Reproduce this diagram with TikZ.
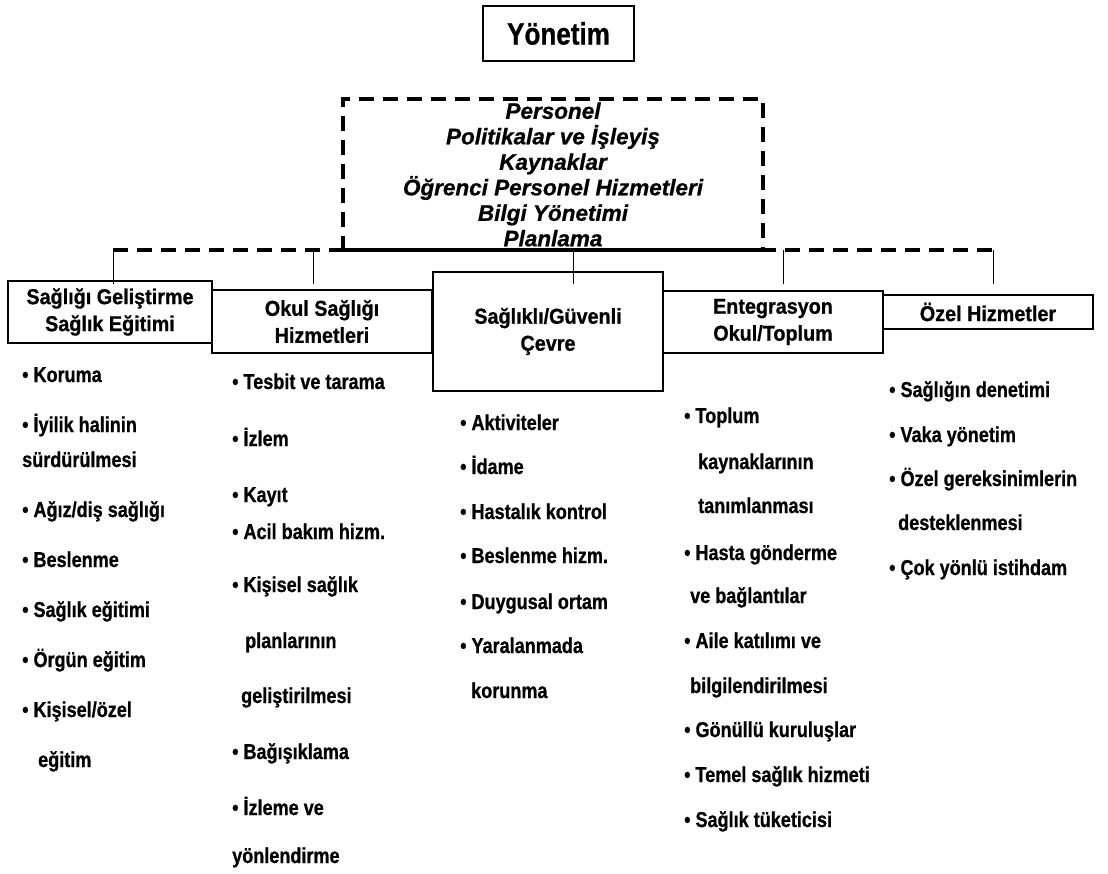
\documentclass[tikz,border=0pt]{standalone}
\usepackage{fontspec}
\setmainfont{Liberation Sans}[FakeBold=0.8]
\newfontfamily\condensed{Liberation Sans}[FakeStretch=0.84, FakeBold=0.8]
\newfontfamily\boxfont{Liberation Sans}[FakeStretch=0.92, FakeBold=0.8]
\usetikzlibrary{positioning}
\tikzset{
  every picture/.style = {
    x = 1pt,
    y = -1pt,
    font = \bfseries
  }
  ,
  head-box/.style = {
    rectangle,
    draw,
    line width = 1.8pt,
    inner sep = 0pt,
    minimum width = 151pt,
    minimum height = 55pt,
    font = \condensed\bfseries\fontsize{31}{34}\selectfont
  }
  , % dashed frame with the admin topics
  admin-box/.style = {
    rectangle,
    draw,
    dash pattern = on 15pt off 9pt,
    line width = 3.6pt,
    inner sep = 0pt,
    align = center,
    minimum width = 420pt,
    minimum height = 151pt,
    font = \bfseries\itshape\fontsize{22.5}{25.5}\selectfont
  }
  ,
  bus-line/.style = {
    dash pattern = on 15pt off 9pt,
    line width = 3.6pt
  }
  ,
  drop/.style = {
    line width = 1pt
  }
  , % the five components
  unit/.style = {
    rectangle,
    draw,
    line width = 1.3pt,
    inner sep = 0pt,
    align = center,
    font = \boxfont\bfseries\fontsize{21.5}{27}\selectfont
  }
  , % list lines under the components
  entry/.style = {
    anchor = base west,
    inner sep = 0pt,
    font = \condensed\bfseries\fontsize{21.5}{24}\selectfont
  }
}
\begin{document}
\begin{tikzpicture}
  \useasboundingbox (0,0) rectangle (1108,873);
  \node[head-box] at (558.5,33.5) (yonetim) {Yönetim};
  \node[admin-box] at (553,174.5) (admin) {Personel\\Politikalar ve İşleyiş\\Kaynaklar\\Öğrenci Personel Hizmetleri\\Bilgi Yönetimi\\Planlama};

  \node[unit, minimum width = 204pt, minimum height = 62pt] at (110,312) (sg) {Sağlığı Geliştirme\\Sağlık Eğitimi};
  \node[unit, minimum width = 220pt, minimum height = 63pt] at (322,321.5) (os) {Okul Sağlığı\\Hizmetleri};
  \node[unit, minimum width = 230pt, minimum height = 119pt] at (548,331.5) (gc) {Sağlıklı/Güvenli\\Çevre};
  \node[unit, minimum width = 220pt, minimum height = 62pt] at (773,322) (ent) {Entegrasyon\\Okul/Toplum};
  \node[unit, minimum width = 210pt, minimum height = 34pt] at (988,312) (oh) {Özel Hizmetler};

  \coordinate (bl) at (113,250);
  \coordinate (br) at (993,250);
  \draw[bus-line] (bl) -- (br);
  \foreach \x [count=\i] in {113,313,573,783,993} {
    \coordinate (j\i) at (\x,250);
    \coordinate (e\i) at (\x,284);
    \draw[drop] (j\i) -- (e\i);
  }

  \foreach \x/\y/\t [count=\i] in {22/382/{• Koruma}, 22/432/{• İyilik halinin}, 22/467/{sürdürülmesi}, 22/517/{• Ağız/diş sağlığı}, 22/567/{• Beslenme}, 22/617/{• Sağlık eğitimi}, 22/667/{• Örgün eğitim}, 22/717/{• Kişisel/özel}, 38/767/{eğitim}}
    \node[entry] at (\x,\y) (sg-\i) {\t};
  \foreach \x/\y/\t [count=\i] in {232/389/{• Tesbit ve tarama}, 232/446/{• İzlem}, 232/502/{• Kayıt}, 232/539/{• Acil bakım hizm.}, 232/592/{• Kişisel sağlık}, 245/648/{planlarının}, 241/703/{geliştirilmesi}, 232/759/{• Bağışıklama}, 232/815/{• İzleme ve}, 232/863/{yönlendirme}}
    \node[entry] at (\x,\y) (os-\i) {\t};
  \foreach \x/\y/\t [count=\i] in {460/430/{• Aktiviteler}, 460/474/{• İdame}, 460/519/{• Hastalık kontrol}, 460/563/{• Beslenme hizm.}, 460/609/{• Duygusal ortam}, 460/653/{• Yaralanmada}, 471/698/{korunma}}
    \node[entry] at (\x,\y) (gc-\i) {\t};
  \foreach \x/\y/\t [count=\i] in {684/423/{• Toplum}, 698/469/{kaynaklarının}, 698/513/{tanımlanması}, 684/560/{• Hasta gönderme}, 690/603/{ve bağlantılar}, 684/648/{• Aile katılımı ve}, 690/693/{bilgilendirilmesi}, 684/737/{• Gönüllü kuruluşlar}, 684/782/{• Temel sağlık hizmeti}, 684/827/{• Sağlık tüketicisi}}
    \node[entry] at (\x,\y) (ent-\i) {\t};
  \foreach \x/\y/\t [count=\i] in {889/397/{• Sağlığın denetimi}, 889/442/{• Vaka yönetim}, 889/486/{• Özel gereksinimlerin}, 898/530/{desteklenmesi}, 889/575/{• Çok yönlü istihdam}}
    \node[entry] at (\x,\y) (oh-\i) {\t};
\end{tikzpicture}
\end{document}
